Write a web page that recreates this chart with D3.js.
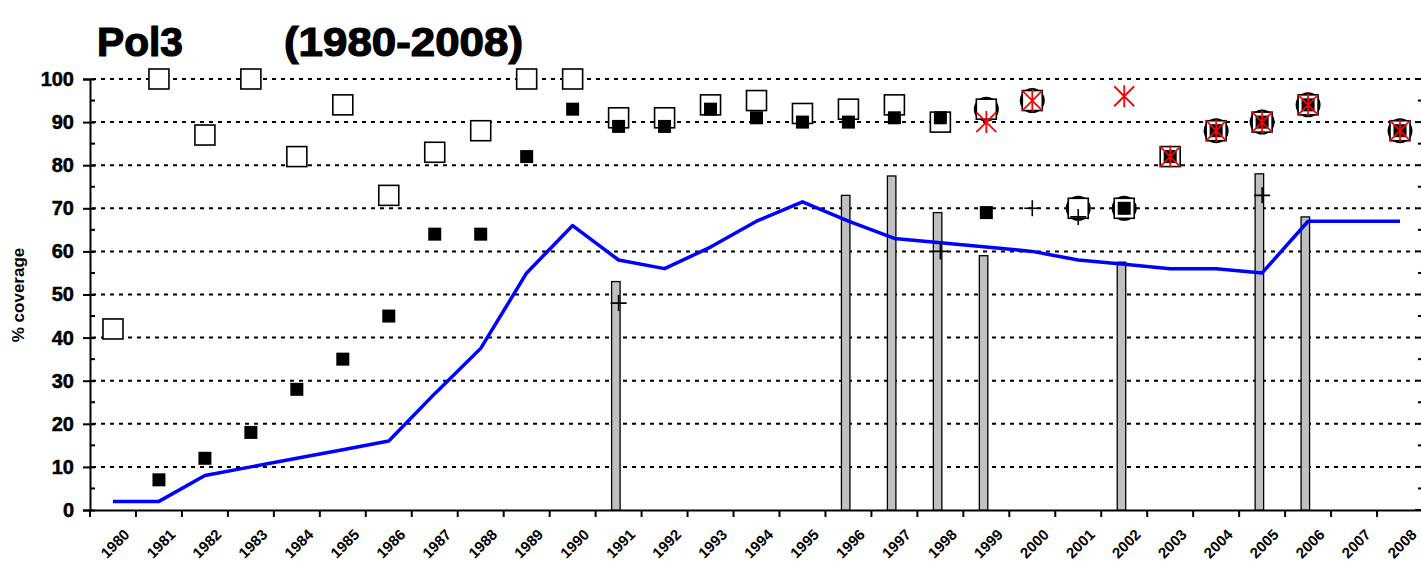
<!DOCTYPE html>
<html><head><meta charset="utf-8">
<script src="https://cdn.jsdelivr.net/npm/d3@7"></script>
<style>body{margin:0;background:#fff}svg{display:block}text{font-family:"Liberation Sans",Arial,sans-serif}</style>
</head><body>
<script>
const years = d3.range(1980, 2009).map(String);
const yTicks = [0,10,20,30,40,50,60,70,80,90,100];
const openSquares = [42,100,87,100,82,94,73,83,88,100,100,91,91,94,95,92,93,94,90,93,95,70,70,82,88,90,94,null,88];
const filledSquares = [null,7,12,18,28,35,45,64,64,82,93,89,89,93,91,90,90,91,91,69,null,null,70,82,88,90,94,null,88];
const circles = [null,null,null,null,null,null,null,null,null,null,null,null,null,null,null,null,null,null,null,93,95,70,70,null,88,90,94,null,88];
const asterisks = [null,null,null,null,null,null,null,null,null,null,null,null,null,null,null,null,null,null,null,90,95,null,96,82,88,90,94,null,88];
const pluses = [null,null,null,null,null,null,null,null,null,null,null,48,null,null,null,null,null,null,60,null,70,68,null,null,null,73,null,null,null];
const bars = [null,null,null,null,null,null,null,null,null,null,null,53,null,null,null,null,73,77.5,69,59,null,null,57.5,null,null,78,68,null,null];
const lineVals = [2,2,8,10,12,14,16,27,37.5,55,66,58,56,61,67,71.5,67,63,62,61,60,58,57,56,56,55,67,67,67];

const W = 1421, H = 566;
const svg = d3.select("body").append("svg").attr("width", W).attr("height", H);
const x = d3.scaleBand().domain(years).range([90, 1423]).paddingInner(0).paddingOuter(0);
const y = d3.scaleLinear().domain([0, 100]).range([510, 79]);
const cx = d => x(d) + x.bandwidth() / 2;

// title
svg.append("text").attr("x", 97).attr("y", 56).attr("font-size", 40).attr("font-weight", "bold")
  .attr("stroke", "#000").attr("stroke-width", 1.2)
  .attr("textLength", 86).attr("lengthAdjust", "spacingAndGlyphs").text("Pol3");
svg.append("text").attr("x", 284).attr("y", 56).attr("font-size", 40).attr("font-weight", "bold")
  .attr("stroke", "#000").attr("stroke-width", 1.2)
  .attr("textLength", 239).attr("lengthAdjust", "spacingAndGlyphs").text("(1980-2008)");

// gridlines
svg.append("g").selectAll("line").data(yTicks.filter(v => v > 0)).join("line")
  .attr("x1", 92).attr("x2", 1416).attr("y1", d => y(d)).attr("y2", d => y(d))
  .attr("stroke", "#000").attr("stroke-width", 2).attr("stroke-dasharray", "4,5");

// y axis left
const yAxis = d3.axisLeft(y).tickValues(yTicks).tickSize(7).tickPadding(9);
const gy = svg.append("g").attr("transform", "translate(90,0)").call(yAxis);
gy.select(".domain").attr("stroke-width", 2);
gy.selectAll(".tick line").attr("stroke-width", 2).attr("x1", 5);
gy.selectAll(".tick text").attr("font-size", 20).attr("font-weight", "bold").attr("fill", "#000")
  .attr("stroke", "#000").attr("stroke-width", 0.5);
const minors = d3.range(5, 100, 10);
svg.append("g").selectAll("line").data(minors).join("line")
  .attr("x1", 90).attr("x2", 95).attr("y1", d => y(d)).attr("y2", d => y(d))
  .attr("stroke", "#000").attr("stroke-width", 2);
// right axis ticks
svg.append("g").selectAll("line").data(yTicks).join("line")
  .attr("x1", 1415).attr("x2", 1421).attr("y1", d => y(d)).attr("y2", d => y(d))
  .attr("stroke", "#000").attr("stroke-width", 2);
svg.append("g").selectAll("line").data(minors).join("line")
  .attr("x1", 1418).attr("x2", 1421).attr("y1", d => y(d)).attr("y2", d => y(d))
  .attr("stroke", "#000").attr("stroke-width", 2);

// y title
svg.append("text").attr("transform", "translate(24,295) rotate(-90)").attr("text-anchor", "middle")
  .attr("font-size", 17).attr("font-weight", "bold").text("% coverage");

// x axis
const xAxis = d3.axisBottom(x).tickSize(0).tickFormat("");
const gx = svg.append("g").attr("transform", "translate(0,510)").call(xAxis);
gx.select(".domain").attr("stroke-width", 2);
svg.append("g").selectAll("line").data(d3.range(0, 30)).join("line")
  .attr("x1", i => 90 + i * x.bandwidth()).attr("x2", i => 90 + i * x.bandwidth())
  .attr("y1", 510).attr("y2", 517).attr("stroke", "#000").attr("stroke-width", 2);
const lbl = svg.append("g").selectAll("g").data(years).join("g")
  .attr("transform", d => "translate(" + (cx(d) + 14) + ",532)");
lbl.append("g").attr("transform", "rotate(-45)")
  .append("text").attr("x", 0).attr("y", 5)
  .attr("text-anchor", "end")
  .attr("font-size", 15).attr("font-weight", "bold").text(d => d);

// bars
const barData = years.map((yr, i) => ({yr, v: bars[i]})).filter(d => d.v != null);
svg.append("g").selectAll("rect").data(barData).join("rect")
  .attr("x", d => cx(d.yr) - 7).attr("width", 8.5)
  .attr("y", d => y(d.v)).attr("height", d => y(0) - y(d.v))
  .attr("fill", "#c0c0c0").attr("stroke", "#000").attr("stroke-width", 1.3);

// line
const lineData = years.map((yr, i) => ({yr, v: lineVals[i]}));
svg.append("path").datum(lineData)
  .attr("d", d3.line().x(d => cx(d.yr)).y(d => y(d.v)))
  .attr("fill", "none").attr("stroke", "#0000ff").attr("stroke-width", 3.5).attr("stroke-linejoin", "round");

const pts = arr => years.map((yr, i) => ({yr, v: arr[i]})).filter(d => d.v != null);

// circles
svg.append("g").selectAll("circle").data(pts(circles)).join("circle")
  .attr("cx", d => cx(d.yr)).attr("cy", d => y(d.v)).attr("r", 11)
  .attr("fill", "#fff").attr("stroke", "#000").attr("stroke-width", 3);

// open squares
svg.append("g").selectAll("rect").data(pts(openSquares)).join("rect")
  .attr("x", d => cx(d.yr) - 10).attr("y", d => y(d.v) - 10).attr("width", 20).attr("height", 20)
  .attr("fill", "#fff").attr("stroke", "#000").attr("stroke-width", 1.6);

// filled squares
svg.append("g").selectAll("rect").data(pts(filledSquares)).join("rect")
  .attr("x", d => cx(d.yr) - 6.5).attr("y", d => y(d.v) - 6.5).attr("width", 13).attr("height", 13)
  .attr("fill", "#000");

// plus
const gp = svg.append("g").selectAll("g").data(pts(pluses)).join("g")
  .attr("transform", d => `translate(${cx(d.yr)},${y(d.v)})`);
gp.append("path").attr("d", "M-8,0H8M0,-8V8").attr("stroke", "#000").attr("stroke-width", 1.6);

// asterisks
const ga = svg.append("g").selectAll("g").data(pts(asterisks)).join("g")
  .attr("transform", d => `translate(${cx(d.yr)},${y(d.v)})`);
ga.append("path").attr("d", "M-10,-10L10,10M-10,10L10,-10M0,-11V11").attr("stroke", "#ff0000").attr("stroke-width", 1.8);
</script>
</body></html>
